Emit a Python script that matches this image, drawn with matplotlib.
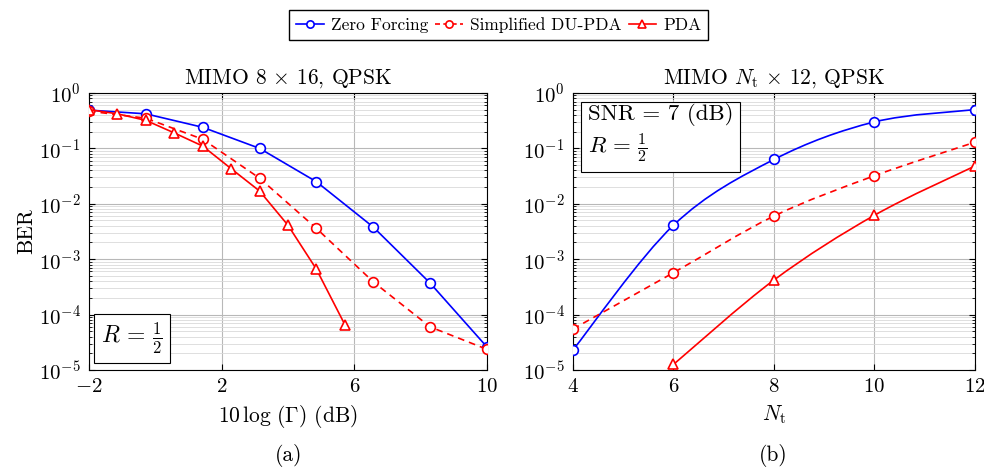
import numpy as np
import matplotlib
matplotlib.use("Agg")
import matplotlib.pyplot as plt
from matplotlib.path import Path
from matplotlib.patches import PathPatch
from matplotlib.lines import Line2D

plt.rcParams["font.family"] = "serif"
plt.rcParams["font.serif"] = ["cmr10", "DejaVu Serif"]
plt.rcParams["mathtext.fontset"] = "cm"
plt.rcParams["axes.formatter.use_mathtext"] = True
plt.rcParams["axes.unicode_minus"] = True

# panel (a): BER vs 10log(Gamma)
snr_zf = [-2, -0.286, 1.429, 3.143, 4.857, 6.571, 8.286, 10]
ber_zf = [0.49, 0.42, 0.24, 0.10, 0.025, 0.0038, 3.7e-4, 2.6e-5]
snr_du = [-2, -0.286, 1.429, 3.143, 4.857, 6.571, 8.286, 10]
ber_du = [0.47, 0.35, 0.146, 0.029, 0.0036, 3.9e-4, 6.0e-5, 2.36e-5]
snr_pda = [-2, -1.143, -0.286, 0.571, 1.429, 2.286, 3.143, 4.0, 4.857, 5.714]
ber_pda = [0.50, 0.42, 0.32, 0.19, 0.11, 0.043, 0.017, 0.0041, 6.6e-4, 6.6e-5]

# panel (b): BER vs Nt
nt_zf = [4, 6, 8, 10, 12]
ber_nt_zf = [2.3e-5, 0.0041, 0.063, 0.30, 0.50]
nt_du = [4, 6, 8, 10, 12]
ber_nt_du = [5.5e-5, 5.7e-4, 0.0060, 0.032, 0.129]
nt_pda = [6, 8, 10, 12]
ber_nt_pda = [1.26e-5, 4.2e-4, 0.0062, 0.048]

BLUE = "#0000ff"
RED = "#ff0000"
FS = 15.5


def smooth_path(ax, x, y, **kw):
    # tikz-like "smooth": cubic bezier through the points (in log-y space)
    x = np.asarray(x, float)
    ly = np.log10(np.asarray(y, float))
    pts = np.column_stack([x, ly])
    n = len(pts)
    verts = [pts[0]]
    codes = [Path.MOVETO]
    for i in range(n - 1):
        p0 = pts[i - 1] if i > 0 else pts[i]
        p1, p2 = pts[i], pts[i + 1]
        p3 = pts[i + 2] if i + 2 < n else pts[i + 1]
        c1 = p1 + (p2 - p0) / 6.0
        c2 = p2 - (p3 - p1) / 6.0
        verts += [c1, c2, p2]
        codes += [Path.CURVE4] * 3
    verts = np.array(verts)
    verts[:, 1] = 10 ** verts[:, 1]
    ax.add_patch(PathPatch(Path(verts, codes), fill=False, **kw))


fig = plt.figure(figsize=(9.84, 4.68), dpi=100)
ax1 = fig.add_axes([0.0904, 0.2094, 0.4045, 0.592])
ax2 = fig.add_axes([0.5823, 0.2094, 0.4085, 0.592])

mk = dict(markersize=7, markerfacecolor="white", markeredgewidth=1.2, linewidth=1.2)

ax1.plot(snr_zf, ber_zf, color=BLUE, marker="o", **mk, zorder=3)
ax1.plot(snr_du, ber_du, color=RED, marker="o", linestyle=(0, (4, 3)), **mk, zorder=3)
ax1.plot(snr_pda, ber_pda, color=RED, marker="^", **mk, zorder=4)

smooth_path(ax2, nt_zf, ber_nt_zf, edgecolor=BLUE, linewidth=1.2, zorder=3)
smooth_path(ax2, nt_du, ber_nt_du, edgecolor=RED, linewidth=1.2, linestyle=(0, (4, 3)), zorder=3)
smooth_path(ax2, nt_pda, ber_nt_pda, edgecolor=RED, linewidth=1.2, zorder=3)
ax2.plot(nt_zf, ber_nt_zf, color=BLUE, marker="o", linestyle="none", **mk, zorder=4)
ax2.plot(nt_du, ber_nt_du, color=RED, marker="o", linestyle="none", **mk, zorder=4)
ax2.plot(nt_pda, ber_nt_pda, color=RED, marker="^", linestyle="none", **mk, zorder=4)

for ax in (ax1, ax2):
    ax.set_yscale("log")
    ax.set_ylim(1e-5, 1)
    ax.set_yticks([1e0, 1e-1, 1e-2, 1e-3, 1e-4, 1e-5])
    ax.grid(True, which="major", color="#b8b8b8", linewidth=0.8)
    ax.grid(True, which="minor", axis="y", color="#d9d9d9", linewidth=0.6)
    ax.tick_params(which="both", direction="in", labelsize=15, top=True, right=True)
    ax.tick_params(which="major", length=4)
    ax.tick_params(which="minor", length=2)
    ax.tick_params(axis="x", pad=6)
    ax.tick_params(axis="y", pad=6)
    ax.set_axisbelow(True)
    for s in ax.spines.values():
        s.set_linewidth(0.8)

ax1.set_xlim(-2, 10)
ax1.set_xticks([-2, 2, 6, 10])
ax2.set_xlim(4, 12)
ax2.set_xticks([4, 6, 8, 10, 12])

ax1.set_title(r"MIMO $8\,\times\,16$, QPSK", fontsize=FS, pad=7)
ax2.set_title(r"MIMO $N_\mathrm{t}\,\times\,12$, QPSK", fontsize=FS, pad=7)
ax1.set_xlabel(r"$10\,\log\,(\Gamma)$ (dB)", fontsize=FS, labelpad=5)
ax2.set_xlabel(r"$N_\mathrm{t}$", fontsize=FS, labelpad=5)
ax1.set_ylabel("BER", fontsize=FS, labelpad=2)

box = dict(boxstyle="square,pad=0.3", facecolor="white", edgecolor="black", linewidth=0.8)
ax1.text(0.03, 0.05, r"$R\,=\,\frac{1}{2}$", transform=ax1.transAxes, fontsize=17,
         ha="left", va="bottom", bbox=box, zorder=6)
ax2.text(0.037, 0.962, "SNR = 7 (dB)\n" + r"$R\,=\,\frac{1}{2}$", transform=ax2.transAxes,
         fontsize=16.5, ha="left", va="top", bbox=box, zorder=6, linespacing=1.25)

handles = [
    Line2D([], [], color=BLUE, marker="o", **mk),
    Line2D([], [], color=RED, marker="o", linestyle=(0, (3, 2)), **mk),
    Line2D([], [], color=RED, marker="^", **mk),
]
fig.legend(handles, ["Zero Forcing", "Simplified DU-PDA", "PDA"], loc="upper center",
           bbox_to_anchor=(0.507, 0.997), ncol=3, fontsize=12.5, frameon=True, fancybox=False,
           edgecolor="black", framealpha=1, handlelength=1.6, handletextpad=0.4,
           columnspacing=0.4, borderpad=0.4, markerscale=0.75)

fig.text(0.293, 0.015, "(a)", fontsize=FS, ha="center")
fig.text(0.786, 0.015, "(b)", fontsize=FS, ha="center")

fig.savefig("out.png", dpi=100)
